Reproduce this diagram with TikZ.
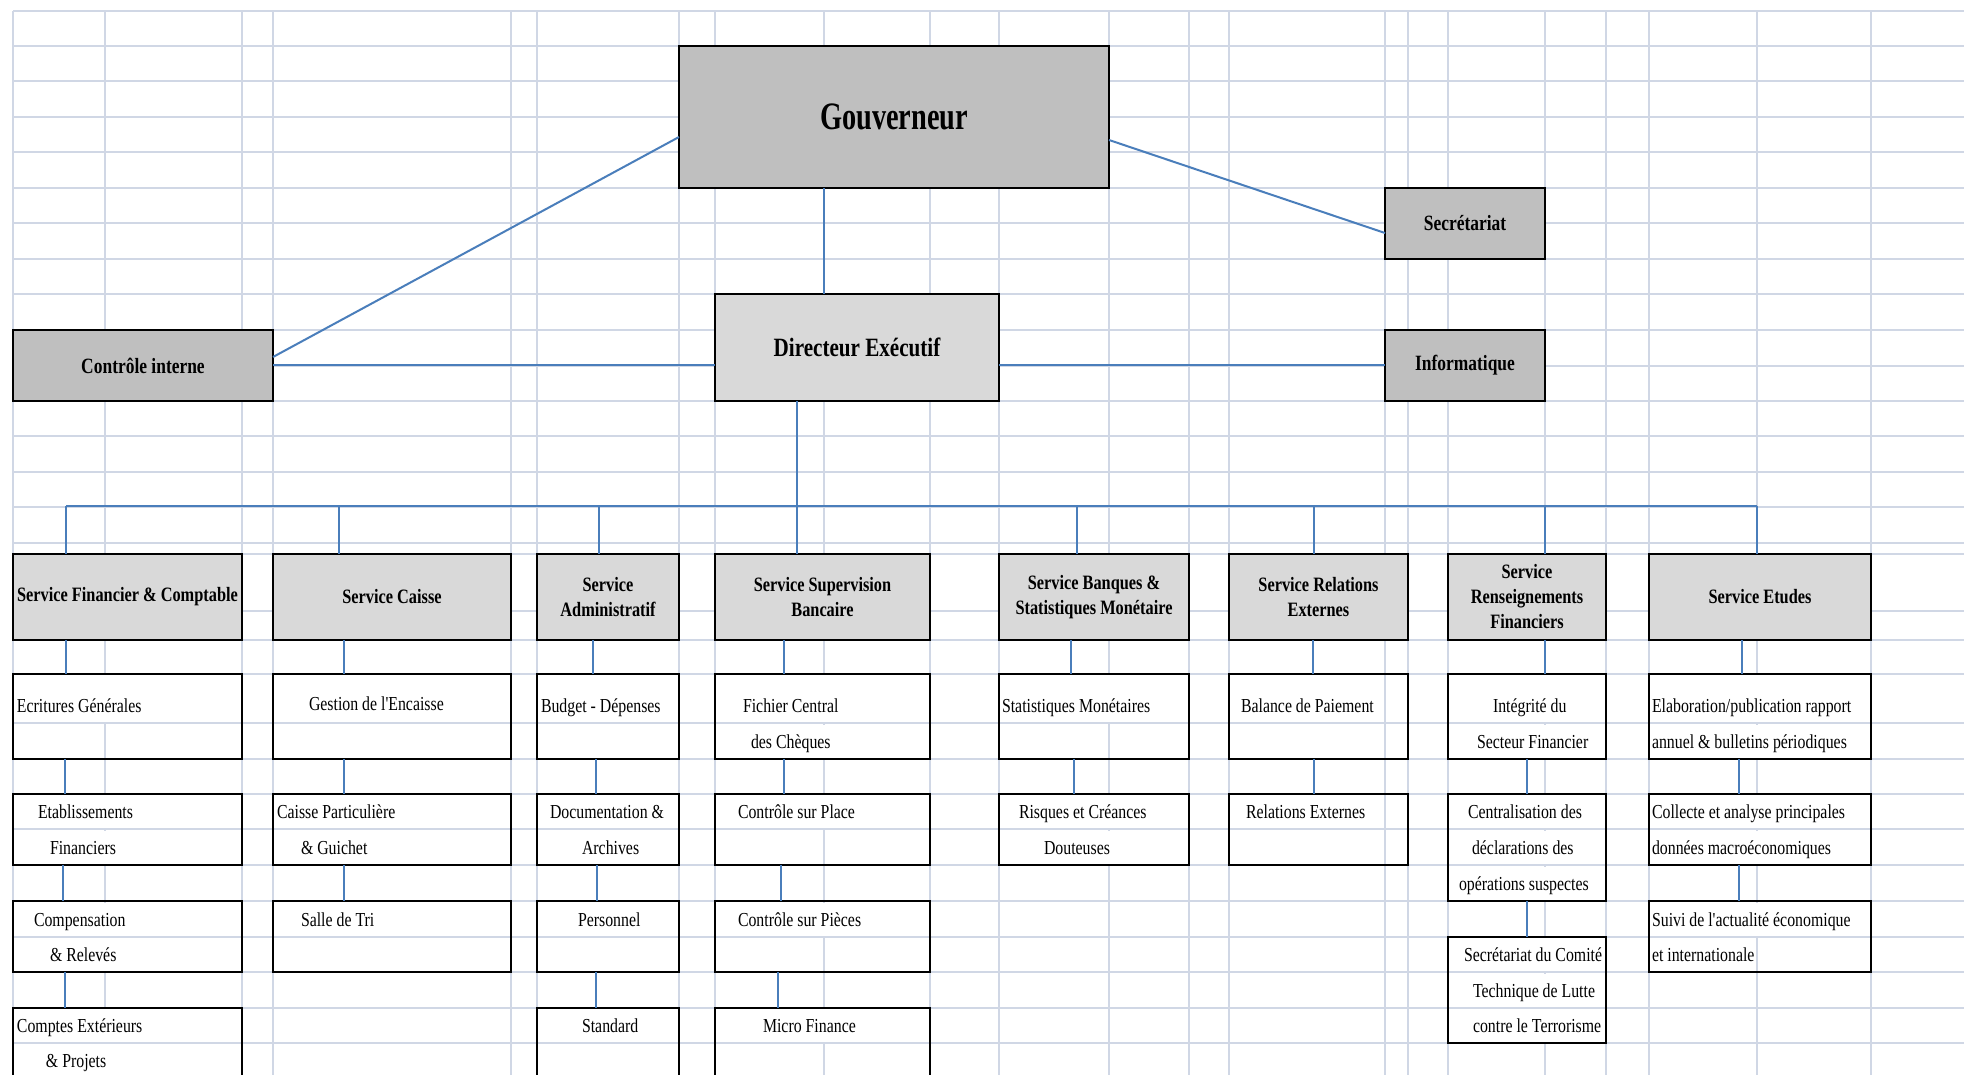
\documentclass[tikz,border=0pt]{standalone}
\usepackage{fontspec}
\setmainfont{Liberation Serif}[FakeStretch=0.80,Ligatures=TeXOff]
\newfontfamily\govfont{Liberation Serif}[FakeStretch=0.73]
\definecolor{gridc}{HTML}{D0D7E5}
\definecolor{connc}{HTML}{4A7EBB}
\definecolor{grayA}{HTML}{BFBFBF}
\definecolor{grayB}{HTML}{D9D9D9}
% box from corners (pixel units): name, style, x1, y1, x2, y2, text
\newcommand\bx[7]{%
  \pgfmathsetmacro\bxw{(#5-#3)*0.5}%
  \pgfmathsetmacro\bxh{(#6-#4)*0.5}%
  \pgfmathsetmacro\bxcx{(#3+#5)/2}%
  \pgfmathsetmacro\bxcy{(#4+#6)/2}%
  \node[#2,minimum width=\bxw pt,minimum height=\bxh pt] (#1) at (\bxcx,\bxcy) {#7};}
\begin{document}
\begin{tikzpicture}[x=0.5pt,y=-0.5pt,
  box/.style={draw=black,line width=1pt,inner sep=0pt,outer sep=0pt,rectangle,anchor=center},
  topbox/.style={box,fill=grayA,font=\bfseries\fontsize{10.9}{13}\selectfont},
  hdr/.style={box,fill=grayB,align=center,font=\bfseries\fontsize{10.2}{12.5}\selectfont},
  subbox/.style={box},
  tx/.style={anchor=base west,inner sep=0pt,outer sep=0pt,fill=white,font=\fontsize{9.9}{12}\selectfont,text depth=4.9pt},
  tr/.style={tx,text height=11.65pt},
  trA/.style={tx,text height=18.4pt},
  conn/.style={draw=connc,line width=1pt},
  hconn/.style={draw=connc,line width=1.35pt},
  gridl/.style={draw=gridc,line width=0.85pt}
]
\clip (0,0) rectangle (1964,1075);
\fill[white] (0,0) rectangle (1964,1075);
% spreadsheet grid
\foreach \y in {11,46,81,117,152,188,223,259,294,330,366,401,436,472,507,543,554,611,640,674,723,759,794,829,865,901,937,972,1008,1043}
  \draw[gridl] (13,\y) -- (1964,\y);
\foreach \x in {13,105,242,273,511,537,679,715,824,930,999,1109,1189,1229,1385,1408,1448,1545,1606,1649,1757,1871}
  \draw[gridl] (\x,11) -- (\x,1075);

% top level
\bx{gov}{topbox,font=\govfont\bfseries\fontsize{19.4}{23}\selectfont}{679}{46}{1109}{188}{Gouverneur}
\bx{dir}{topbox,fill=grayB,font=\bfseries\fontsize{13.2}{15}\selectfont}{715}{294}{999}{401}{Directeur Exécutif}
\bx{ctrl}{topbox}{13}{330}{273}{401}{Contrôle interne}
\bx{secr}{topbox}{1385}{188}{1545}{259}{Secrétariat}
\bx{info}{topbox}{1385}{330}{1545}{401}{Informatique}

% service headers
\bx{h1}{hdr}{13}{554}{242}{640}{Service Financier \& Comptable}
\bx{h2}{hdr}{273}{554}{511}{640}{Service Caisse}
\bx{h3}{hdr}{537}{554}{679}{640}{Service\\Administratif}
\bx{h4}{hdr}{715}{554}{930}{640}{Service Supervision\\Bancaire}
\bx{h5}{hdr}{999}{554}{1189}{640}{Service Banques \&\\Statistiques Monétaire}
\bx{h6}{hdr}{1229}{554}{1408}{640}{Service Relations\\Externes}
\bx{h7}{hdr}{1448}{554}{1606}{640}{Service\\Renseignements\\Financiers}
\bx{h8}{hdr}{1649}{554}{1871}{640}{Service Etudes}

% texts of the sub-units
\node[trA] (t11a) at (17,712) {Ecritures Générales};
\node[tr] (t12a) at (38,818) {Etablissements};
\node[tr] (t12b) at (50,854) {Financiers};
\node[tr] (t13a) at (34,926) {Compensation};
\node[tr] (t13b) at (50,961) {\& Relevés};
\node[tr] (t14a) at (17,1032) {Comptes Extérieurs};
\node[tr] (t14b) at (46,1067) {\& Projets};

\node[trA] (t21a) at (309,710) {Gestion de l'Encaisse};
\node[tr] (t22a) at (277,818) {Caisse Particulière};
\node[tr] (t22b) at (301,854) {\& Guichet};
\node[tr] (t23a) at (301,926) {Salle de Tri};

\node[trA] (t31a) at (541,712) {Budget - Dépenses};
\node[tr] (t32a) at (550,818) {Documentation \&};
\node[tr] (t32b) at (582,854) {Archives};
\node[tr] (t33a) at (578,926) {Personnel};
\node[tr] (t34a) at (582,1032) {Standard};

\node[trA] (t41a) at (743,712) {Fichier Central};
\node[tr] (t41b) at (751,748) {des Chèques};
\node[tr] (t42a) at (738,818) {Contrôle sur Place};
\node[tr] (t43a) at (738,926) {Contrôle sur Pièces};
\node[tr] (t44a) at (763,1032) {Micro Finance};

\node[trA] (t51a) at (1002,712) {Statistiques Monétaires};
\node[tr] (t52a) at (1019,818) {Risques et Créances};
\node[tr] (t52b) at (1044,854) {Douteuses};

\node[trA] (t61a) at (1241,712) {Balance de Paiement};
\node[tr] (t62a) at (1246,818) {Relations Externes};

\node[trA] (t71a) at (1493,712) {Intégrité du};
\node[tr] (t71b) at (1477,748) {Secteur Financier};
\node[tr] (t72a) at (1468,818) {Centralisation des};
\node[tr] (t72b) at (1472,854) {déclarations des};
\node[tr] (t72c) at (1459,890) {opérations suspectes};
\node[tr] (t73a) at (1464,961) {Secrétariat du Comité};
\node[tr] (t73b) at (1473,997) {Technique de Lutte};
\node[tr] (t73c) at (1473,1032) {contre le Terrorisme};

\node[trA] (t81a) at (1652,712) {Elaboration/publication rapport};
\node[tr] (t81b) at (1652,748) {annuel \& bulletins périodiques};
\node[tr] (t82a) at (1652,818) {Collecte et analyse principales};
\node[tr] (t82b) at (1652,854) {données macroéconomiques};
\node[tr] (t83a) at (1652,926) {Suivi de l'actualité économique};
\node[tr] (t83b) at (1652,961) {et internationale};

% sub-unit boxes
\bx{s11}{subbox}{13}{674}{242}{759}{}
\bx{s12}{subbox}{13}{794}{242}{865}{}
\bx{s13}{subbox}{13}{901}{242}{972}{}
\bx{s14}{subbox}{13}{1008}{242}{1090}{}
\bx{s21}{subbox}{273}{674}{511}{759}{}
\bx{s22}{subbox}{273}{794}{511}{865}{}
\bx{s23}{subbox}{273}{901}{511}{972}{}
\bx{s31}{subbox}{537}{674}{679}{759}{}
\bx{s32}{subbox}{537}{794}{679}{865}{}
\bx{s33}{subbox}{537}{901}{679}{972}{}
\bx{s34}{subbox}{537}{1008}{679}{1090}{}
\bx{s41}{subbox}{715}{674}{930}{759}{}
\bx{s42}{subbox}{715}{794}{930}{865}{}
\bx{s43}{subbox}{715}{901}{930}{972}{}
\bx{s44}{subbox}{715}{1008}{930}{1090}{}
\bx{s51}{subbox}{999}{674}{1189}{759}{}
\bx{s52}{subbox}{999}{794}{1189}{865}{}
\bx{s61}{subbox}{1229}{674}{1408}{759}{}
\bx{s62}{subbox}{1229}{794}{1408}{865}{}
\bx{s71}{subbox}{1448}{674}{1606}{759}{}
\bx{s72}{subbox}{1448}{794}{1606}{901}{}
\bx{s73}{subbox}{1448}{937}{1606}{1043}{}
\bx{s81}{subbox}{1649}{674}{1871}{759}{}
\bx{s82}{subbox}{1649}{794}{1871}{865}{}
\bx{s83}{subbox}{1649}{901}{1871}{972}{}

% top connectors
\draw[conn] (gov.west |- 0,137) -- (ctrl.east |- 0,357);
\draw[hconn] (ctrl.east |- 0,365) -- (dir.west |- 0,365);
\draw[conn] (gov.south -| 824,0) -- (dir.north -| 824,0);
\draw[conn] (gov.east |- 0,140) -- (secr.west |- 0,233);
\draw[hconn] (dir.east |- 0,365) -- (info.west |- 0,365);
\draw[conn] (dir.south -| 797,0) -- (h4.north -| 797,0);

% bus to the services
\coordinate (busL) at (66,506);
\coordinate (busR) at (1757,506);
\draw[hconn] (busL) -- (busR);
\draw[conn] (busL) -- (h1.north -| busL);
\draw[conn] (busL -| 339,0) -- (h2.north -| 339,0);
\draw[conn] (busL -| 599,0) -- (h3.north -| 599,0);
\draw[conn] (busL -| 1077,0) -- (h5.north -| 1077,0);
\draw[conn] (busL -| 1314,0) -- (h6.north -| 1314,0);
\draw[conn] (busL -| 1545,0) -- (h7.north -| 1545,0);
\draw[conn] (busR) -- (h8.north -| busR);

% connectors inside each service
\draw[conn] (h1.south -| 66,0) -- (s11.north -| 66,0);
\draw[conn] (s11.south -| 65,0) -- (s12.north -| 65,0);
\draw[conn] (s12.south -| 63,0) -- (s13.north -| 63,0);
\draw[conn] (s13.south -| 65,0) -- (s14.north -| 65,0);

\draw[conn] (h2.south -| 344,0) -- (s21.north -| 344,0);
\draw[conn] (s21.south -| 344,0) -- (s22.north -| 344,0);
\draw[conn] (s22.south -| 344,0) -- (s23.north -| 344,0);

\draw[conn] (h3.south -| 593,0) -- (s31.north -| 593,0);
\draw[conn] (s31.south -| 596,0) -- (s32.north -| 596,0);
\draw[conn] (s32.south -| 597,0) -- (s33.north -| 597,0);
\draw[conn] (s33.south -| 596,0) -- (s34.north -| 596,0);

\draw[conn] (h4.south -| 784,0) -- (s41.north -| 784,0);
\draw[conn] (s41.south -| 784,0) -- (s42.north -| 784,0);
\draw[conn] (s42.south -| 781,0) -- (s43.north -| 781,0);
\draw[conn] (s43.south -| 778,0) -- (s44.north -| 778,0);

\draw[conn] (h5.south -| 1071,0) -- (s51.north -| 1071,0);
\draw[conn] (s51.south -| 1074,0) -- (s52.north -| 1074,0);

\draw[conn] (h6.south -| 1313,0) -- (s61.north -| 1313,0);
\draw[conn] (s61.south -| 1314,0) -- (s62.north -| 1314,0);

\draw[conn] (h7.south -| 1545,0) -- (s71.north -| 1545,0);
\draw[conn] (s71.south -| 1527,0) -- (s72.north -| 1527,0);
\draw[conn] (s72.south -| 1527,0) -- (s73.north -| 1527,0);

\draw[conn] (h8.south -| 1742,0) -- (s81.north -| 1742,0);
\draw[conn] (s81.south -| 1739,0) -- (s82.north -| 1739,0);
\draw[conn] (s82.south -| 1739,0) -- (s83.north -| 1739,0);
\end{tikzpicture}
\end{document}
